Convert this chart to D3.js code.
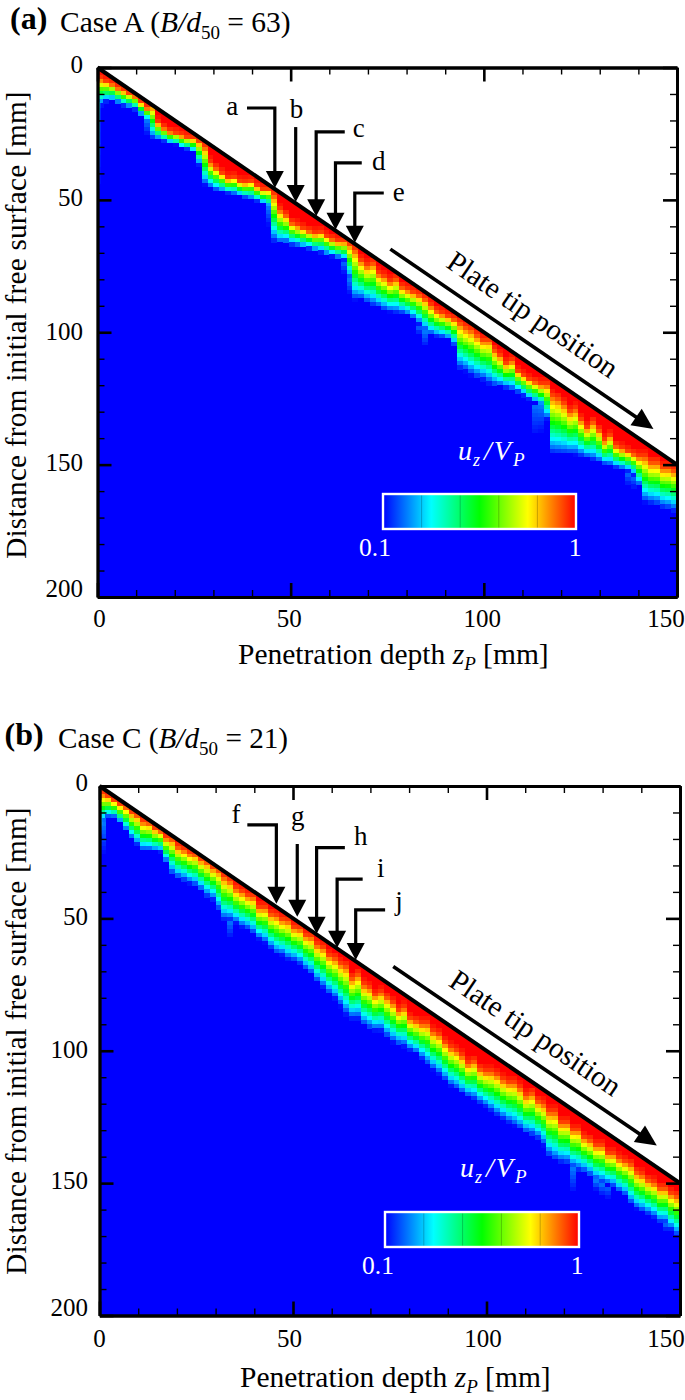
<!DOCTYPE html>
<html>
<head>
<meta charset="utf-8">
<script src="https://cdn.jsdelivr.net/npm/d3@7/dist/d3.min.js"></script>
<style>
html,body{margin:0;padding:0;background:#fff}
svg{display:block}
text{font-family:"Liberation Serif","Times New Roman",serif;fill:#000}
</style>
</head>
<body>
<svg id="chart" width="685" height="1400"></svg>
<script>
// ---------- data (mm) ----------
const columnWidth = 1.5;   // simulation cell width along penetration depth
const rowHeight = 1.5;     // cell height along distance from free surface
const xDomain = [0, 150];
const yDomain = [0, 200];
const majorTicks = [0, 50, 100, 150];
const yMajorTicks = [0, 50, 100, 150, 200];
const xMinorTicks = [10, 20, 30, 40, 60, 70, 80, 90, 110, 120, 130, 140];
const yMinorTicks = [10, 20, 30, 40, 60, 70, 80, 90, 110, 120, 130, 140, 160, 170, 180, 190];
const plateTip = [[0, 0], [150, 150]];
const legendLevels = [0.1, 1];

// Depth at which u_z/V_P falls to 0.1 (edge of blue), one value per column
const caseABlue = [
14.5,13,12.5,13.5,14.5,15,16,18,20,27,
27.3,28,28.7,29.3,30.5,31,32,37,44.5,45.5,
46.5,47,47.5,48,48.5,49.2,49.8,50.5,51.5,53,
66,66.8,66.5,67.2,67.6,68.2,68.6,69.3,70,70.8,
71.4,72,73,80,88,87.8,89,90.2,90.7,91.8,
92.4,92.8,93,93.8,95,97,99.5,101,101.7,102,
102.8,105,114,115,116.5,117.5,118.2,119.7,120.4,120.8,
121.2,122,122.8,124,125.5,126.8,128,133,146,146.2,
146.2,146.2,146.4,147,147.6,148.4,149.2,150,150.6,151.2,
151.8,152.5,154,158,164.4,165,165.5,166.5,167,167.8];
// Depth at which u_z/V_P leaves the red end of the scale, one value per column
const caseARed = [
4.5,5.5,6.5,8,9,10,11,13.5,15.5,14.5,
21,23,24.5,25,25.8,26.5,27,28,30,36,
38,40,42,41.5,43,43.5,43,45,46,46,
48,54,56,59,60,61,62,63,62.5,64,
65,66,66,67,69,73,75,74,78,79,
81,80,83,84,85,86,87.5,90,92,93,
94,95,96.5,98,99,101,103,103,107,109,
112,111,115,116.5,118,119,120,120,124,125,
127,130,129,133,136,134,137,141,139,143,
144,145,146,147,147,149,149,151,151,152];
const caseCBlue = [
14,12,12,14,17,20,22.3,24.5,24.5,24.8,
25,29,33.5,35,36,37,37.8,39.6,42,43.2,
47,50.8,51,52,53.6,54.4,56,58,59.4,61.6,
63.6,64,65.7,66.2,67.5,69.5,71.2,74,76.3,78.6,
80.6,83.5,86.6,88.2,88.3,90.8,92,92.6,92.7,95,
97,97.9,98.6,100.2,101.3,103.4,105.6,107.4,109.2,111.4,
113.6,114.7,116.3,117.5,118.5,120,121.3,122.9,124.6,126,
127.4,128.5,129.7,131.2,132.3,133.5,136,140,141.8,142.4,
142.8,144.5,145.5,146,147.5,149.2,150.3,150.8,151.8,153.6,
155,158.2,160,161,162,163.2,165,165.2,167.8,170];
const caseCRed = [
3,4,5.5,7,8,10,11,13.5,14,16,
17,19.5,20,23,24,25.5,26,28,29,31,
32,34.5,36,39,40,41.5,42,46,46,48.5,
49,50.5,51,53.5,54,56.5,57,60,61,64,
65,67,68,72.5,71,75,76,79,78,80,
82,85,84,88,89,90,90,93,94,97,
99,100,102,105,104,107,108,108,109,111,
112,112,114,117,116,119,120,123,123,127,
127,130,130,133,134,136,136,139,139,141,
142,143,146,147,149,150,152,152,154,155];

// Faint streaks below the front: column index and depth they reach
const caseATailColumn = [8, 29, 42, 43, 55, 56, 75, 76, 91, 92];
const caseATailDepth = [26, 60, 78, 86, 101, 106, 139, 138, 158, 159];
const caseCTailColumn = [0, 22, 81, 85, 86, 87, 97];
const caseCTailDepth = [26, 58, 154, 153, 155, 156, 168];
const caseAWall = [13, 48];
const caseCWall = [10, 20];

// Arrow annotations a–e
const caseALabels = ["a", "b", "c", "d", "e"];
const caseATipZ = [45.9, 51.3, 56.6, 61.6, 66.6];
const caseATipD = [45.5, 50.8, 56.2, 61.3, 66.2];
const caseAStemD = [15.3, 22.5, 24.3, 36, 47.4];
const caseAArmZ = [38.7, null, 64, 68.4, 74.1];
const caseALabelZ = [34.9, 51.5, 67.6, 72.8, 78];
const caseALabelD = [17.9, 19, 26.2, 38.7, 50.4];
// Arrow annotations f–j
const caseCLabels = ["f", "g", "h", "i", "j"];
const caseCTipZ = [45.7, 51.1, 56.1, 61.4, 66.2];
const caseCTipD = [44.5, 49.4, 55.8, 61.1, 65.7];
const caseCStemD = [14.7, 21.9, 23.3, 35.2, 46.8];
const caseCArmZ = [38.2, null, 63.4, 68, 73.8];
const caseCLabelZ = [35.3, 51.2, 67.5, 72.7, 77.4];
const caseCLabelD = [14, 14.7, 22.3, 34.3, 46.8];

const caseAPlateArrow = [[75.8, 68.6], [143.9, 136.5]];
const caseCPlateArrow = [[75.9, 68.2], [144, 135.8]];
const plateLabelAt = [112.4, 93.9];

// ---------- layout ----------
const panels = [
  {id:"a", left:97.5, right:677, top:67.5, bottom:597, blue:caseABlue, red:caseARed,
   tailC:caseATailColumn, tailD:caseATailDepth, wall:caseAWall,
   labels:caseALabels, tipZ:caseATipZ, tipD:caseATipD, stemD:caseAStemD, armZ:caseAArmZ,
   labelZ:caseALabelZ, labelD:caseALabelD, plateArrow:caseAPlateArrow,
   tag:"(a)", tagX:10, tagY:29, caseName:"Case A (", ratio:"63)", titleX:60, titleY:32, titleSize:29.5,
   xTitle:[238,664], yTitle:[26.4,325], xLabelDx:[2,-1.5,-1.5,-11], xLabelY:627,
   yLabelRight:83, yLabelDy:[5.5,6,7.5,6,0],
   bar:[383,576,494,529], barLab:[375,575,556], uz:[458,460]},
  {id:"b", left:99.5, right:680, top:786, bottom:1315.5, blue:caseCBlue, red:caseCRed,
   tailC:caseCTailColumn, tailD:caseCTailDepth, wall:caseCWall,
   labels:caseCLabels, tipZ:caseCTipZ, tipD:caseCTipD, stemD:caseCStemD, armZ:caseCArmZ,
   labelZ:caseCLabelZ, labelD:caseCLabelD, plateArrow:caseCPlateArrow,
   tag:"(b)", tagX:4.5, tagY:745, caseName:"Case C (", ratio:"21)", titleX:58, titleY:748, titleSize:29.2,
   xTitle:[240,1387], yTitle:[26.4,1041], xLabelDx:[0,-3.5,-3.5,-14], xLabelY:1347,
   yLabelRight:88, yLabelDy:[5,7,7,6,0],
   bar:[385,579,1212,1247], barLab:[378,577,1274], uz:[460,1177]}
];

const colorOf = d3.scaleLinear()
  .domain([0, .25, .5, .75, 1])
  .range(["#0000ff", "#00ffff", "#00ff00", "#ffff00", "#ff0000"])
  .clamp(true);

const svg = d3.select("#chart");
const defs = svg.append("defs");
defs.append("filter").attr("id","soft").attr("x","-2%").attr("y","-2%").attr("width","104%").attr("height","104%")
  .append("feGaussianBlur").attr("stdDeviation",0.55);
const wg = defs.append("linearGradient").attr("id","wallFade").attr("x1",0).attr("y1",0).attr("x2",0).attr("y2",1);
wg.append("stop").attr("offset","0%").attr("stop-color","#19e6ff");
wg.append("stop").attr("offset","45%").attr("stop-color","#20a0ff");
wg.append("stop").attr("offset","100%").attr("stop-color","#0000ff");
const bg = defs.append("linearGradient").attr("id","barFill");
colorOf.domain().forEach(t => bg.append("stop").attr("offset",t*100+"%").attr("stop-color",colorOf(t)));

function rich(sel, parts){
  parts.forEach(p => {
    const s = sel.append("tspan").text(p.t);
    if (p.i) s.attr("font-style","italic");
    if (p.size) s.attr("font-size",p.size);
    if (p.dy) s.attr("dy",p.dy);
    if (p.dx) s.attr("dx",p.dx);
  });
}

panels.forEach(p => {
  const x = d3.scaleLinear().domain(xDomain).range([p.left, p.right]);
  const y = d3.scaleLinear().domain(yDomain).range([p.top, p.bottom]);
  const g = svg.append("g");
  const clipId = "clip-" + p.id;
  const wedge = [[0,0],[150,150],[150,200],[0,200]];
  const wedgePath = d3.line().x(d => x(d[0])).y(d => y(d[1]));
  defs.append("clipPath").attr("id",clipId).append("path").attr("d", wedgePath(wedge) + "Z");

  // field
  const field = g.append("g").attr("clip-path",`url(#${clipId})`).append("g").attr("filter","url(#soft)");
  field.append("rect").attr("x",x(0)).attr("y",y(0)).attr("width",x(150)-x(0)).attr("height",y(200)-y(0)).attr("fill","#0000ff");

  const cells = [];
  const rows = d3.range(0, 200, rowHeight);
  p.blue.forEach((edge, c) => {
    const z0 = c * columnWidth, redEnd = p.red[c];
    rows.forEach(d => {
      const mid = d + rowHeight / 2;
      if (mid > edge || d + rowHeight < z0) return;
      // scale position: 0 at the blue edge, orange-red at redEnd, pure red just above it
      const t = mid >= redEnd ? 0.93 * (edge - mid) / (edge - redEnd) : 0.93 + 0.07 * (redEnd - mid) / 3;
      cells.push({z0, d, t});
    });
    const k = p.tailC.indexOf(c);
    if (k >= 0) {
      const end = p.tailD[k];
      rows.forEach(d => {
        const mid = d + rowHeight / 2;
        if (mid <= edge || mid > end) return;
        cells.push({z0, d, t: 0.12 * (end - mid) / (end - edge)});
      });
    }
  });
  field.selectAll("rect.cell").data(cells).join("rect").attr("class","cell")
    .attr("x", d => x(d.z0)).attr("y", d => y(d.d))
    .attr("width", x(columnWidth) - x(0) + .4).attr("height", y(rowHeight) - y(0) + .4)
    .attr("fill", d => colorOf(d.t)).attr("shape-rendering","crispEdges");
  field.append("rect").attr("x",x(0)).attr("y",y(p.wall[0])).attr("width",x(0.7)-x(0))
    .attr("height",y(p.wall[1])-y(p.wall[0])).attr("fill","url(#wallFade)");

  // plate tip
  g.append("path").attr("d",wedgePath(plateTip)).attr("stroke","#000").attr("stroke-width",4).attr("fill","none");

  // axes: every tick points into the frame
  function axisSet(axisFn, scale, transform, values, len, w){
    const a = g.append("g").attr("transform",transform)
      .call(axisFn(scale).tickValues(values).tickSizeInner(-len).tickSizeOuter(0).tickFormat(""));
    a.select(".domain").attr("stroke","#000").attr("stroke-width",2.8);
    a.selectAll("line").attr("stroke","#000").attr("stroke-width",w);
  }
  const bt = `translate(0,${p.bottom})`, tt = `translate(0,${p.top})`, lt = `translate(${p.left},0)`, rt = `translate(${p.right},0)`;
  [[d3.axisBottom,x,bt],[d3.axisTop,x,tt]].forEach(s => {
    axisSet(s[0],s[1],s[2],xMinorTicks,7,1.4);
    axisSet(s[0],s[1],s[2],majorTicks,14,2.6);
  });
  [[d3.axisLeft,y,lt],[d3.axisRight,y,rt]].forEach(s => {
    axisSet(s[0],s[1],s[2],yMinorTicks,7,1.4);
    axisSet(s[0],s[1],s[2],yMajorTicks,14,2.6);
  });

  // tick labels
  g.selectAll("text.xl").data(majorTicks).join("text").attr("class","xl")
    .attr("x",(d,i)=>x(d)+p.xLabelDx[i]).attr("y",p.xLabelY).attr("text-anchor","middle").attr("font-size",25).text(d=>d);
  g.selectAll("text.yl").data(yMajorTicks).join("text").attr("class","yl")
    .attr("x",p.yLabelRight).attr("y",(d,i)=>y(d)+p.yLabelDy[i]).attr("text-anchor","end").attr("font-size",25).text(d=>d);

  // titles
  g.append("text").attr("x",p.tagX).attr("y",p.tagY).attr("font-size",32).attr("font-weight","bold").text(p.tag);
  rich(g.append("text").attr("x",p.titleX).attr("y",p.titleY).attr("font-size",p.titleSize),[
    {t:p.caseName},{t:"B/d",i:true},{t:"50",size:19,dy:7},{t:" = ",dy:-7},{t:p.ratio}]);
  rich(g.append("text").attr("x",p.xTitle[0]).attr("y",p.xTitle[1]).attr("font-size",29.5),[
    {t:"Penetration depth "},{t:"z",i:true},{t:"P",i:true,size:19,dy:6},{t:" [mm]",dy:-6}]);
  g.append("text").attr("transform",`translate(${p.yTitle[0]},${p.yTitle[1]}) rotate(-90)`)
    .attr("text-anchor","middle").attr("font-size",29.2).attr("letter-spacing",0.25).text("Distance from initial free surface [mm]");

  // arrows a-e / f-j
  const ink = g.append("g");
  p.labels.forEach((lab,i) => {
    const tx = x(p.tipZ[i]), ty = y(p.tipD[i]), sy = y(p.stemD[i]);
    const pts = p.armZ[i] === null ? [[tx,sy],[tx,ty-14]] : [[x(p.armZ[i]),sy],[tx,sy],[tx,ty-14]];
    ink.append("path").attr("d",d3.line()(pts)).attr("fill","none").attr("stroke","#000").attr("stroke-width",3.2);
    ink.append("path").attr("d",`M${tx},${ty}L${tx-9},${ty-17}L${tx+9},${ty-17}Z`).attr("fill","#000");
    ink.append("text").attr("x",x(p.labelZ[i])).attr("y",y(p.labelD[i])).attr("text-anchor","middle").attr("font-size",27).text(lab);
  });

  // long arrow
  const [sa, ea] = p.plateArrow;
  const x1 = x(sa[0]), y1 = y(sa[1]), x2 = x(ea[0]), y2 = y(ea[1]);
  const ang = Math.atan2(y2-y1, x2-x1) * 180 / Math.PI;
  const len = Math.hypot(x2-x1, y2-y1);
  const arrow = g.append("g").attr("transform",`translate(${x1},${y1}) rotate(${ang})`);
  arrow.append("line").attr("x1",0).attr("y1",0).attr("x2",len-18).attr("y2",0).attr("stroke","#000").attr("stroke-width",3.6);
  arrow.append("path").attr("d",`M${len},0L${len-21},-10L${len-21},10Z`).attr("fill","#000");
  g.append("text").attr("transform",`translate(${x(plateLabelAt[0])},${y(plateLabelAt[1])}) rotate(${ang})`)
    .attr("text-anchor","middle").attr("dy",8).attr("font-size",29.5).text("Plate tip position");

  // legend
  const [bl,br,bt2,bb] = p.bar;
  const legendX = d3.scaleLinear().domain([0,1]).range([bl,br]);
  g.append("rect").attr("x",bl).attr("y",bt2).attr("width",br-bl).attr("height",bb-bt2)
    .attr("fill","url(#barFill)").attr("stroke","#fff").attr("stroke-width",2.4);
  g.selectAll("line.sep").data([.2,.4,.6,.8]).join("line").attr("class","sep")
    .attr("x1",d=>legendX(d)).attr("x2",d=>legendX(d)).attr("y1",bt2+1.5).attr("y2",bb-1.5)
    .attr("stroke","#000").attr("stroke-opacity",.22).attr("stroke-width",1);
  g.append("text").attr("x",p.barLab[0]).attr("y",p.barLab[2]).attr("text-anchor","middle").attr("font-size",25.5)
    .style("fill","#fff").text(legendLevels[0]);
  g.append("text").attr("x",p.barLab[1]).attr("y",p.barLab[2]).attr("text-anchor","middle").attr("font-size",25.5)
    .style("fill","#fff").text(legendLevels[1]);
  const uz = g.append("text").attr("x",p.uz[0]).attr("y",p.uz[1]).attr("font-size",28).style("fill","#fff");
  rich(uz,[{t:"u",i:true},{t:"z",i:true,size:18,dy:6,dx:1},{t:"/",i:true,dy:-6,dx:4},{t:"V",i:true,dx:2},{t:"P",i:true,size:19,dy:6,dx:2}]);
  uz.selectAll("tspan").style("fill","#fff");
});
</script>
</body>
</html>
